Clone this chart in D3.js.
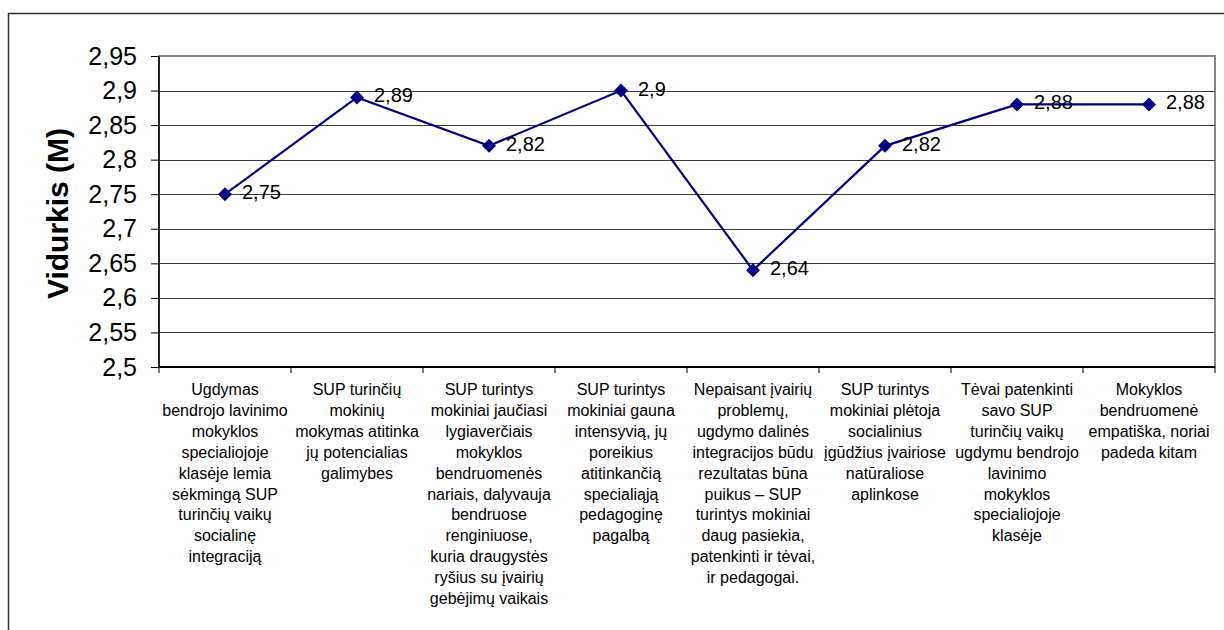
<!DOCTYPE html>
<html>
<head>
<meta charset="utf-8">
<script src="https://cdn.jsdelivr.net/npm/d3@7"></script>
<style>
    body { margin: 0; background: #fff; }
    svg { display: block; font-family: "Liberation Sans", Arial, sans-serif; }
    .y-axis .domain { stroke: #000; stroke-width: 1.5; }
    .y-axis .tick line { stroke: #000; }
    .y-axis text { font-size: 25px; fill: #000; }
</style>
</head>
<body>
<script>
// chart data
const categories = [
    ["Ugdymas", "bendrojo lavinimo", "mokyklos", "specialiojoje", "klasėje lemia", "sėkmingą SUP", "turinčių vaikų", "socialinę", "integraciją"],
    ["SUP turinčių", "mokinių", "mokymas atitinka", "jų potencialias", "galimybes"],
    ["SUP turintys", "mokiniai jaučiasi", "lygiaverčiais", "mokyklos", "bendruomenės", "nariais, dalyvauja", "bendruose", "renginiuose,", "kuria draugystės", "ryšius su įvairių", "gebėjimų vaikais"],
    ["SUP turintys", "mokiniai gauna", "intensyvią, jų", "poreikius", "atitinkančią", "specialiąją", "pedagoginę", "pagalbą"],
    ["Nepaisant įvairių", "problemų,", "ugdymo dalinės", "integracijos būdu", "rezultatas būna", "puikus – SUP", "turintys mokiniai", "daug pasiekia,", "patenkinti ir tėvai,", "ir pedagogai."],
    ["SUP turintys", "mokiniai plėtoja", "socialinius", "įgūdžius įvairiose", "natūraliose", "aplinkose"],
    ["Tėvai patenkinti", "savo SUP", "turinčių vaikų", "ugdymu bendrojo", "lavinimo", "mokyklos", "specialiojoje", "klasėje"],
    ["Mokyklos", "bendruomenė", "empatiška, noriai", "padeda kitam"]
];
const values = [2.75, 2.89, 2.82, 2.9, 2.64, 2.82, 2.88, 2.88];
const yTicks = [2.5, 2.55, 2.6, 2.65, 2.7, 2.75, 2.8, 2.85, 2.9, 2.95];
const yTitle = "Vidurkis (M)";

const width = 1224, height = 630;
const margin = {left: 159, right: 9, top: 56, bottom: 263};
const plotW = width - margin.left - margin.right,
    plotH = height - margin.top - margin.bottom;

const fmt = v => String(v).replace(".", ",");
const idx = d3.range(categories.length);

let svg = d3.select("body").append("svg")
    .attr("width", width)
    .attr("height", height);

// outer frame (only top and left edges visible)
svg.append("path")
    .attr("d", "M8.5," + height + "V13.5H" + width)
    .attr("fill", "none")
    .attr("stroke", "#333")
    .attr("stroke-width", 1.5);

let x = d3.scaleBand()
    .domain(idx)
    .range([margin.left, margin.left + plotW])
    .padding(0);
let y = d3.scaleLinear()
    .domain([2.5, 2.95])
    .range([margin.top + plotH, margin.top]);

// plot area border
svg.append("rect")
    .attr("x", margin.left)
    .attr("y", y(2.95))
    .attr("width", plotW)
    .attr("height", y(2.5) - y(2.95))
    .attr("fill", "none")
    .attr("stroke", "#888")
    .attr("stroke-width", 2);

// gridlines
svg.append("g")
    .selectAll("line")
    .data(yTicks.filter(t => t > 2.5 && t < 2.95))
    .enter()
    .append("line")
        .attr("x1", margin.left)
        .attr("x2", margin.left + plotW)
        .attr("y1", d => Math.round(y(d)) + 0.5)
        .attr("y2", d => Math.round(y(d)) + 0.5)
        .attr("stroke", "#3a3a3a")
        .attr("stroke-width", 1);

// y axis
svg.append("g")
    .classed("y-axis", true)
    .attr("transform", "translate(" + margin.left + ",0)")
    .call(d3.axisLeft(y).tickValues(yTicks).tickSize(8).tickPadding(14).tickFormat(fmt))
    .call(g => g.select(".domain").attr("d", "M0," + y(2.95) + "V" + y(2.5)));

// x axis line and ticks at category boundaries
let xBounds = idx.map(i => x(i)).concat([x.range()[1]]);
svg.append("line")
    .attr("x1", margin.left)
    .attr("x2", margin.left + plotW)
    .attr("y1", y(2.5))
    .attr("y2", y(2.5))
    .attr("stroke", "#000")
    .attr("stroke-width", 2);
svg.append("g")
    .selectAll("line")
    .data(xBounds)
    .enter()
    .append("line")
        .attr("x1", d => d)
        .attr("x2", d => d)
        .attr("y1", y(2.5))
        .attr("y2", y(2.5) + 6)
        .attr("stroke", "#000");

// category labels
let labels = svg.append("g")
    .selectAll("text")
    .data(categories)
    .enter()
    .append("text")
        .attr("text-anchor", "middle")
        .attr("font-size", 16)
        .attr("fill", "#000")
        .attr("transform", (d, i) => "translate(" + (x(i) + x.bandwidth() / 2) + "," + (y(2.5) + 28) + ")");
labels.selectAll("tspan")
    .data(d => d)
    .enter()
    .append("tspan")
        .attr("x", 0)
        .attr("y", (d, i) => i * 20.9)
        .text(d => d);

// y axis title
svg.append("text")
    .attr("transform", "translate(68," + (margin.top + plotH / 2 + 2) + ") rotate(-90)")
    .attr("text-anchor", "middle")
    .attr("font-size", 30)
    .attr("font-weight", "bold")
    .text(yTitle);

// series line
const cx = i => x(i) + x.bandwidth() / 2;
svg.append("path")
    .datum(values)
    .attr("fill", "none")
    .attr("stroke", "#000080")
    .attr("stroke-width", 2.2)
    .attr("d", d3.line().x((d, i) => cx(i)).y(d => y(d)));

// markers
svg.append("g")
    .selectAll("path")
    .data(values)
    .enter()
    .append("path")
        .attr("d", "M0,-7L7,0L0,7L-7,0Z")
        .attr("transform", (d, i) => "translate(" + cx(i) + "," + y(d) + ")")
        .attr("fill", "#000080");

// data labels
svg.append("g")
    .selectAll("text")
    .data(values)
    .enter()
    .append("text")
        .attr("x", (d, i) => cx(i) + 17)
        .attr("y", d => y(d) + 5)
        .attr("font-size", 20)
        .attr("fill", "#000")
        .text(fmt);
</script>
</body>
</html>
